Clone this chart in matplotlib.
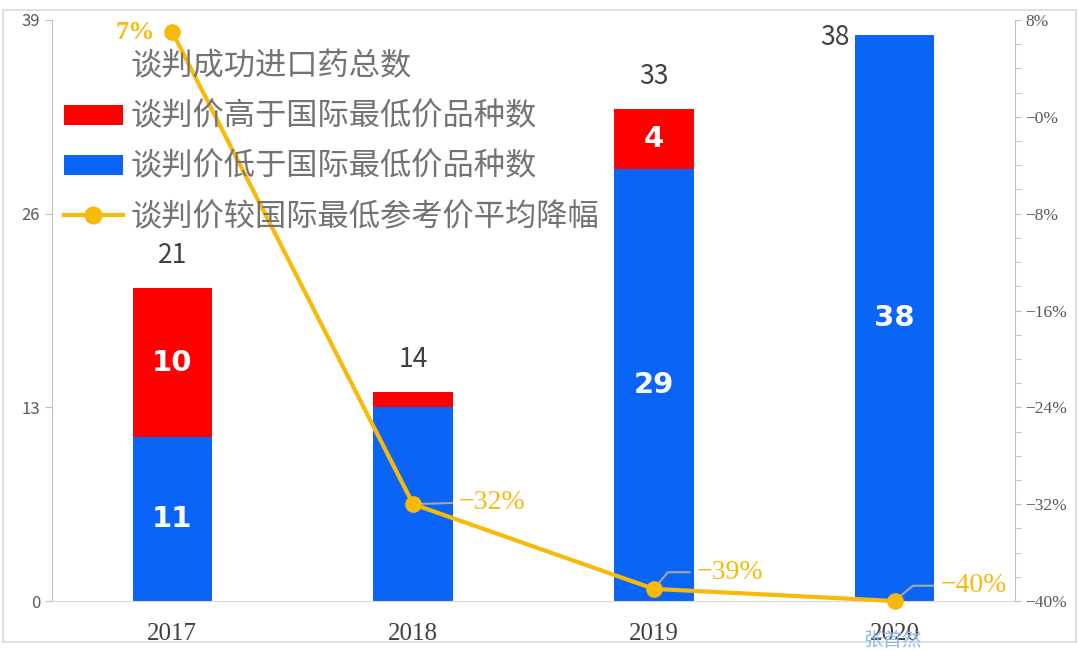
import numpy as np
import matplotlib.pyplot as plt
from matplotlib.patches import Patch, Rectangle
from matplotlib.lines import Line2D
from matplotlib.ticker import MultipleLocator, FuncFormatter

plt.rcParams['font.family'] = ['Noto Sans CJK SC', 'DejaVu Sans']

# Data:
years = ['2017', '2018', '2019', '2020']
totals = [21, 14, 33, 38]
higher = [10, 1, 4, 0]
lower = [11, 13, 29, 38]
avg_drop = [0.07, -0.32, -0.39, -0.40]
show_inner = [True, False, True, True]

RED = '#FF0000'
BLUE = '#0A64F5'
GOLD = '#F7BA0B'
GRAY = '#595959'

fig = plt.figure(figsize=(10.79, 6.5), dpi=100)
ax = fig.add_axes([52 / 1079, 1 - 601 / 650, (1015 - 52) / 1079, (601 - 20) / 650])

# Outer border
fig.patches.append(Rectangle((3 / 1079, 8 / 650), 1073 / 1079, 632 / 650, transform=fig.transFigure,
                             fill=False, edgecolor='#D9D9D9', linewidth=1.2))

x = np.arange(len(years))
w = 0.33
ax.bar(x, lower, w, color=BLUE, zorder=2)
ax.bar(x, higher, w, bottom=lower, color=RED, zorder=2)

for i in range(len(years)):
    if show_inner[i]:
        ax.text(x[i], lower[i] / 2, str(lower[i]), ha='center', va='center', color='white',
                fontsize=21, fontweight='bold', family='DejaVu Sans', zorder=3)
        if higher[i] > 0:
            ax.text(x[i], lower[i] + higher[i] / 2, str(higher[i]), ha='center', va='center',
                    color='white', fontsize=21, fontweight='bold', family='DejaVu Sans', zorder=3)
    if i < 3:
        ax.text(x[i], totals[i] + 1.3, str(totals[i]), ha='center', va='bottom', color='#404040',
                fontsize=19, zorder=3)
    else:
        ax.text(x[i] - w / 2 - 0.02, totals[i] - 0.2, str(totals[i]), ha='right', va='center',
                color='#404040', fontsize=19, zorder=3)

ax.set_xlim(-0.5, 3.5)
ax.set_ylim(0, 39)
ax.set_yticks([0, 13, 26, 39])
ax.set_xticks(x)
ax.set_xticklabels(years, family=['Liberation Serif'], fontsize=18, color='#404040')
ax.tick_params(axis='x', length=0, pad=16)
ax.tick_params(axis='y', colors='#BFBFBF', labelcolor=GRAY, labelsize=12, length=5)
for s in ['top', 'right']:
    ax.spines[s].set_visible(False)
ax.spines['left'].set_color('#BFBFBF')
ax.spines['bottom'].set_color('#D9D9D9')

# Right axis with line
ax2 = ax.twinx()
ax2.plot(x, avg_drop, '-o', color=GOLD, linewidth=3, markersize=11, zorder=4, clip_on=False)
ax2.set_ylim(-0.40, 0.08)
ax2.yaxis.set_major_locator(MultipleLocator(0.08))
ax2.yaxis.set_minor_locator(MultipleLocator(0.02))
ax2.yaxis.set_major_formatter(FuncFormatter(lambda v, p: '{:.0f}%'.format(v * 100).replace('-', '\u2212')))
ax2.tick_params(axis='y', which='both', colors='#BFBFBF', labelcolor=GRAY, labelsize=12.5, length=4)
for lab in ax2.get_yticklabels():
    lab.set_family('Liberation Serif')
for s in ['top', 'left', 'bottom']:
    ax2.spines[s].set_visible(False)
ax2.spines['right'].set_color('#BFBFBF')

def pct(v):
    return '{:.0f}%'.format(v * 100).replace('-', '\u2212')

ax2.text(x[0] - 0.07, avg_drop[0], pct(avg_drop[0]), ha='right', va='center', color=GOLD,
         fontsize=19, fontweight='bold', family='Liberation Serif')
offsets = [None, (33, 1), (31, 12), (33, 11)]
styles = [None, 'arc3,rad=0', 'angle,angleA=0,angleB=50,rad=0', 'angle,angleA=0,angleB=40,rad=0']
for i in range(1, 4):
    ax2.annotate(pct(avg_drop[i]), (x[i], avg_drop[i]), xytext=offsets[i], textcoords='offset points',
                 ha='left', va='center', color=GOLD, fontsize=20, family='Liberation Serif',
                 arrowprops=dict(arrowstyle='-', color='#A6A6A6', lw=1.5, shrinkA=3, shrinkB=6,
                                 relpos=(0, 0.5), connectionstyle=styles[i]))

handles = [Patch(facecolor='none', edgecolor='none'),
           Patch(facecolor=RED),
           Patch(facecolor=BLUE),
           Line2D([0], [0], color=GOLD, lw=3, marker='o', markersize=12)]
labels = ['谈判成功进口药总数', '谈判价高于国际最低价品种数', '谈判价低于国际最低价品种数', '谈判价较国际最低参考价平均降幅']
leg = ax2.legend(handles, labels, loc='upper left', bbox_to_anchor=(51 / 1079, 1 - 38 / 650),
                 bbox_transform=fig.transFigure, frameon=False, fontsize=22.5, handlelength=1.9,
                 handleheight=0.6, handletextpad=0.25, labelspacing=0.58, borderaxespad=0)
for t in leg.get_texts():
    t.set_color('#737373')

fig.text(893 / 1079, 1 - 641 / 650, '张首然', color='#8DB8E8', fontsize=14, ha='center', va='center')

fig.savefig('out.png', dpi=100)
